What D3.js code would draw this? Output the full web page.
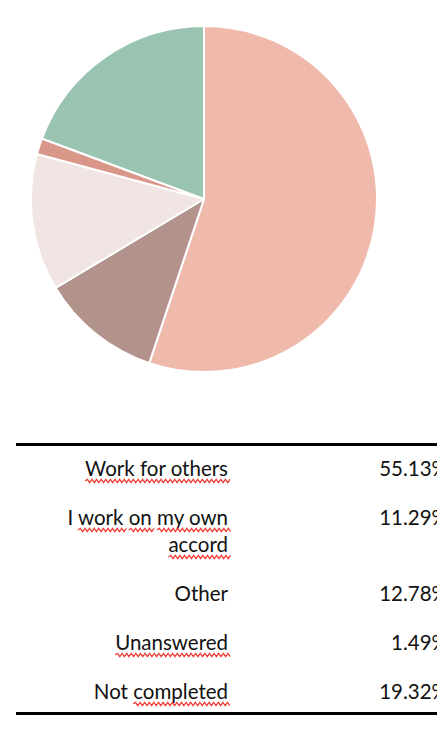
<!DOCTYPE html>
<html>
<head>
<meta charset="utf-8">
<script src="https://cdn.jsdelivr.net/npm/d3@7"></script>
<style>
  html, body { margin: 0; padding: 0; background: #fff; overflow: hidden; }
  text { font-family: Lato, "Open Sans", sans-serif; }
</style>
</head>
<body>
<div id="chart"></div>
<script>
// Data
const categories = ["Work for others", "I work on my own accord", "Other", "Unanswered", "Not completed"];
const values = [55.13, 11.29, 12.78, 1.49, 19.32];
const colors = ["#efb9ab", "#b2938b", "#f1e5e3", "#d9978a", "#98c4b1"];
// words flagged by the spell checker (red wavy lines)
const spellMarks = [["Work for others"], ["work", "on", "my own", "accord"], [], ["Unanswered"], ["completed"]];

const [w, h] = [437, 751];
const [cx, cy, r] = [204, 199, 173];

const svg = d3.select("#chart")
    .append("svg")
    .attr("width", w)
    .attr("height", h);

// Pie
const pie = d3.pie().sort(null).value(d => d);
const arc = d3.arc().innerRadius(0).outerRadius(r);

svg.append("g")
    .attr("transform", `translate(${cx}, ${cy})`)
    .selectAll("path")
    .data(pie(values))
    .enter()
    .append("path")
    .attr("d", arc)
    .attr("fill", (d, i) => colors[i])
    .attr("stroke", "#fff")
    .attr("stroke-width", 2)
    .attr("stroke-linejoin", "round");

// Table
const [tableLeft, tableTop, tableBottom] = [16, 444.5, 713.5];
const labelRight = 228;
const valueRight = 448;
const fontSize = 20.5;
const lineHeight = 27;
const rowGap = 49;
const fmt = d3.format(".2f");

svg.append("line")
    .attr("x1", tableLeft).attr("x2", w)
    .attr("y1", tableTop).attr("y2", tableTop)
    .attr("stroke", "#000").attr("stroke-width", 3);

svg.append("line")
    .attr("x1", tableLeft).attr("x2", w)
    .attr("y1", tableBottom).attr("y2", tableBottom)
    .attr("stroke", "#000").attr("stroke-width", 3);

const tbl = svg.append("g");

// crude word wrap based on measured width
function wrapLines(str, maxW) {
    const probe = tbl.append("text").style("font-size", fontSize + "px");
    const words = str.split(" ");
    let lines = [], cur = "";
    words.forEach(word => {
        const test = cur ? cur + " " + word : word;
        probe.text(test);
        if (probe.node().getComputedTextLength() > maxW && cur) {
            lines.push(cur);
            cur = word;
        } else {
            cur = test;
        }
    });
    lines.push(cur);
    probe.remove();
    return lines;
}

function wave(x1, x2, y) {
    const step = 2.3;
    let p = `M${x1},${y}`;
    let up = true;
    for (let x = x1 + step; x <= x2; x += step) {
        p += ` L${x},${y + (up ? -1.7 : 1.7)}`;
        up = !up;
    }
    return p;
}

let baseline = 476;
categories.forEach((cat, i) => {
    const lines = wrapLines(cat, 165);
    const marks = spellMarks[i].slice();

    svg.append("text")
        .attr("x", valueRight)
        .attr("y", baseline)
        .attr("text-anchor", "end")
        .style("font-size", fontSize + "px")
        .attr("fill", "#111")
        .text(fmt(values[i]) + "%");

    lines.forEach((ln, j) => {
        const y = baseline + j * lineHeight;
        const t = tbl.append("text")
            .attr("x", labelRight)
            .attr("y", y)
            .attr("text-anchor", "end")
            .style("font-size", fontSize + "px")
            .attr("fill", "#111")
            .text(ln);
        const node = t.node();
        marks.forEach(m => {
            const idx = (" " + ln + " ").indexOf(" " + m + " ");
            if (idx < 0) return;
            const x1 = node.getStartPositionOfChar(idx).x;
            const x2 = x1 + node.getSubStringLength(idx, m.length);
            tbl.append("path")
                .attr("d", wave(x1, x2 + 3, y + 5))
                .attr("fill", "none")
                .attr("stroke", "#f23a33")
                .attr("stroke-width", 1.2);
        });
    });
    baseline += rowGap + (lines.length - 1) * lineHeight;
});
</script>
</body>
</html>
